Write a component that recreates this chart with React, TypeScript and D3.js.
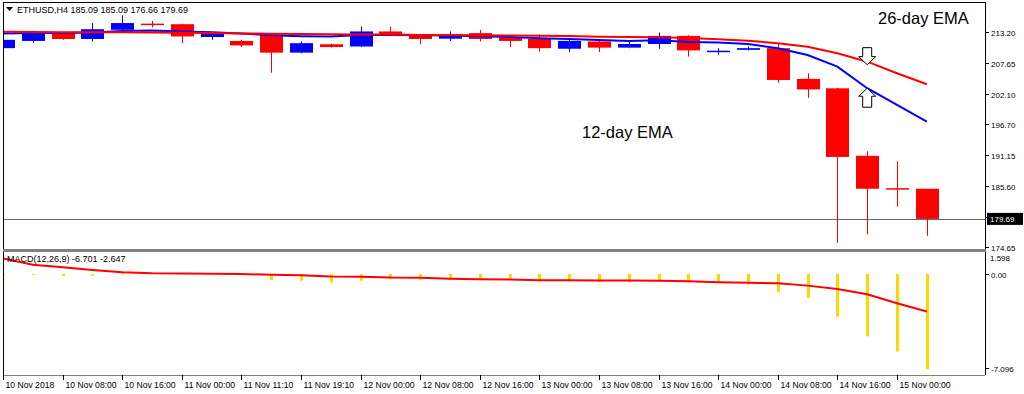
import * as d3 from "d3";

// H4 candles, 10 Nov 2018 00:00 .. 15 Nov 2018 04:00
const opens = [210.3, 211.6, 213.0, 211.95, 213.6, 214.7, 214.6, 212.3, 211.6, 212.8, 209.5, 211.0, 210.6, 213.3, 212.6, 212.0, 213.0, 212.2, 211.95, 210.2, 211.5, 210.4, 211.05, 212.5, 209.8, 210.0, 210.3, 204.8, 203.1, 191.0, 185.2, 185.09];
const highs = [212.1, 213.4, 213.1, 214.8, 216.2, 215.2, 214.7, 213.2, 211.8, 212.9, 211.5, 211.1, 214.2, 214.15, 212.7, 213.3, 213.6, 212.4, 212.8, 212.1, 211.6, 211.6, 213.1, 212.6, 210.3, 210.6, 211.2, 205.8, 203.2, 191.8, 190.0, 185.09];
const lows = [209.9, 211.3, 211.8, 211.5, 213.5, 214.0, 211.2, 211.8, 210.5, 205.9, 209.4, 210.4, 210.5, 212.5, 211.0, 211.6, 211.5, 210.5, 209.7, 209.6, 209.6, 210.3, 210.2, 208.8, 209.1, 209.9, 204.1, 201.4, 175.4, 176.9, 181.9, 176.66];
const closes = [211.8, 213.0, 211.95, 213.7, 214.8, 214.6, 212.4, 213.1, 210.8, 209.5, 211.2, 210.5, 213.3, 212.7, 211.95, 212.8, 211.95, 211.6, 210.3, 211.6, 210.4, 211.05, 212.5, 209.9, 209.85, 210.3, 204.6, 202.9, 190.8, 185.1, 185.09, 179.69];

const ema26 = [213.25, 213.2, 213.15, 213.15, 213.15, 213.1, 213.05, 213.0, 212.95, 212.9, 212.85, 212.8, 212.77, 212.73, 212.68, 212.64, 212.6, 212.57, 212.54, 212.48, 212.36, 212.3, 212.25, 212.12, 211.9, 211.64, 211.18, 210.57, 209.4, 207.88, 205.8, 203.84];
const ema12 = [212.95, 213.0, 213.0, 213.1, 213.4, 213.45, 213.3, 213.15, 212.95, 212.6, 212.45, 212.4, 212.65, 212.65, 212.6, 212.55, 212.45, 212.3, 212.1, 211.95, 211.75, 211.6, 211.7, 211.4, 211.3, 211.05, 210.28, 209.08, 206.99, 203.12, 200.13, 197.14];

const macdMain = [-0.05, -0.07, -0.15, -0.12, 0.05, 0.08, 0.06, 0.04, 0.02, -0.42, -0.47, -0.61, -0.47, -0.37, -0.42, -0.37, -0.35, -0.3, -0.54, -0.54, -0.58, -0.58, -0.54, -0.58, -0.65, -0.72, -1.25, -1.67, -3.0, -4.4, -5.47, -6.701];
const macdSignal = [1.1, 0.65, 0.47, 0.28, 0.13, 0.05, 0.04, 0.02, 0.0, -0.06, -0.08, -0.18, -0.19, -0.25, -0.26, -0.33, -0.37, -0.38, -0.44, -0.44, -0.45, -0.46, -0.47, -0.51, -0.58, -0.62, -0.65, -0.82, -1.06, -1.43, -2.06, -2.647];

const priceTicks = [213.2, 207.65, 202.1, 196.7, 191.15, 185.6, 180.05, 174.65];
const timeLabels = ["10 Nov 2018", "10 Nov 08:00", "10 Nov 16:00", "11 Nov 00:00", "11 Nov 11:10", "11 Nov 19:10", "12 Nov 00:00", "12 Nov 08:00", "12 Nov 16:00", "13 Nov 00:00", "13 Nov 08:00", "13 Nov 16:00", "14 Nov 00:00", "14 Nov 08:00", "14 Nov 16:00", "15 Nov 00:00"];

const W = 1024;
const H = 394;
const LEFT = 3;
const RIGHT = 985;
const MAIN_TOP = 2;
const MAIN_BOT = 249;
const MACD_BOT = 375;
const FONT = "'Liberation Sans', Arial, sans-serif";
const BULL = "#0000ff";
const BEAR = "#ff0000";

export default function App() {
  const idx = d3.range(closes.length);
  const x = d3.scaleLinear().domain([0, 31]).range([3, 926.8]);
  const y = d3.scaleLinear().domain([174.65, 213.2]).range([247, 32]);
  const ym = d3.scaleLinear().domain([-6.701, 0]).range([369, 274]);
  const bodyW = 23;
  const last = closes[closes.length - 1];

  const emaLine = (arr: number[]) =>
    d3.line<number>().x((_, i) => x(i)).y((d) => y(d))(arr) ?? "";
  const sigLine = d3.line<number>().x((_, i) => x(i)).y((d) => ym(d))(macdSignal) ?? "";

  // arrows pointing at the EMAs on the crossover candle
  const ax = x(29);
  const downTip = y(ema26[29]) + 3;
  const upTip = y(ema12[29]);
  const downArrow = `M${ax - 4.5},${downTip - 17} h9 v9 h4 l-8.5,8 l-8.5,-8 h4 z`;
  const upArrow = `M${ax},${upTip} l8.5,8 h-4 v11 h-9 v-11 h-4 z`;

  return (
    <svg width={W} height={H} style={{ position: "absolute", left: 0, top: 0, background: "#fff" }} fontFamily={FONT}>
      <defs>
        <clipPath id="main-clip">
          <rect x={LEFT} y={MAIN_TOP} width={RIGHT - LEFT} height={MAIN_BOT - MAIN_TOP} />
        </clipPath>
        <clipPath id="macd-clip">
          <rect x={LEFT} y={252} width={RIGHT - LEFT} height={MACD_BOT - 252} />
        </clipPath>
      </defs>

      {/* current price line */}
      <line x1={LEFT} x2={RIGHT} y1={Math.round(y(last)) + 0.5} y2={Math.round(y(last)) + 0.5} stroke="#5f6f6f" strokeWidth={1} />

      <g clipPath="url(#main-clip)">
        {idx.map((i) => {
          const up = closes[i] > opens[i];
          const c = up ? BULL : BEAR;
          const cx = Math.round(x(i)) + 0.5;
          const top = y(Math.max(opens[i], closes[i]));
          const bot = y(Math.min(opens[i], closes[i]));
          const h = Math.max(bot - top, 1.5);
          return (
            <g key={i}>
              <line x1={cx} x2={cx} y1={y(highs[i])} y2={y(lows[i])} stroke={c} strokeWidth={1} />
              <rect x={cx - bodyW / 2} y={top} width={bodyW} height={h} fill={c} />
            </g>
          );
        })}
        <path d={emaLine(ema12)} fill="none" stroke={BULL} strokeWidth={2} />
        <path d={emaLine(ema26)} fill="none" stroke={BEAR} strokeWidth={2} />
        <path d={downArrow} fill="#fff" stroke="#000" strokeWidth={1} />
        <path d={upArrow} fill="#fff" stroke="#000" strokeWidth={1} />
      </g>

      <text x={878} y={24} fontSize={16.5} fill="#000">26-day EMA</text>
      <text x={582} y={138} fontSize={16.5} fill="#000">12-day EMA</text>

      {/* header */}
      <path d="M6,7 h7 l-3.5,4 z" fill="#000" />
      <text x={17} y={13} fontSize={9} fill="#000">ETHUSD,H4  185.09 185.09 176.66 179.69</text>

      {/* macd */}
      <g clipPath="url(#macd-clip)">
        {idx.map((i) => (
          <rect
            key={i}
            x={Math.round(x(i)) - 1}
            y={Math.min(ym(macdMain[i]), ym(0))}
            width={3}
            height={Math.max(Math.abs(ym(macdMain[i]) - ym(0)), 1)}
            fill="#ffd700"
          />
        ))}
        <path d={sigLine} fill="none" stroke={BEAR} strokeWidth={2} />
      </g>
      <text x={7} y={262} fontSize={9} fill="#000">MACD(12,26,9) -6.701 -2.647</text>

      {/* frame */}
      <line x1={LEFT + 0.5} x2={LEFT + 0.5} y1={MAIN_TOP} y2={MACD_BOT} stroke="#000" />
      <line x1={LEFT} x2={RIGHT} y1={MAIN_TOP + 0.5} y2={MAIN_TOP + 0.5} stroke="#000" />
      <line x1={RIGHT + 0.5} x2={RIGHT + 0.5} y1={MAIN_TOP} y2={MACD_BOT} stroke="#000" />
      <rect x={LEFT} y={MAIN_BOT} width={RIGHT - LEFT + 1} height={3} fill="#808080" />
      <line x1={LEFT} x2={RIGHT} y1={MACD_BOT + 0.5} y2={MACD_BOT + 0.5} stroke="#808080" />

      {/* price axis */}
      {priceTicks.map((t) => (
        <g key={t} transform={`translate(${RIGHT},${Math.round(y(t)) + 0.5})`}>
          <line x1={0} x2={4} stroke="#000" />
          <text x={6} y={3} fontSize={8} fill="#000">{t.toFixed(2)}</text>
        </g>
      ))}
      <rect x={RIGHT + 2} y={y(last) - 6} width={36} height={12} fill="#000" />
      <text x={RIGHT + 5} y={y(last) + 3} fontSize={8} fill="#fff">{last.toFixed(2)}</text>

      {/* macd axis */}
      <text x={RIGHT + 5} y={261} fontSize={8} fill="#000">1.598</text>
      <g transform={`translate(${RIGHT},${Math.round(ym(0)) + 0.5})`}>
        <line x1={0} x2={4} stroke="#000" />
        <text x={6} y={3} fontSize={8} fill="#000">0.00</text>
      </g>
      <g transform={`translate(${RIGHT},368.5)`}>
        <line x1={0} x2={4} stroke="#000" />
        <text x={6} y={3} fontSize={8} fill="#000">-7.096</text>
      </g>

      {/* time axis */}
      {timeLabels.map((lab, j) => {
        const tx = Math.round(x(j * 2)) + 0.5;
        return (
          <g key={lab} transform={`translate(${tx},${MACD_BOT})`}>
            <line y1={0} y2={5} stroke="#000" />
            <text x={2} y={13} fontSize={8.6} fill="#000">{lab}</text>
          </g>
        );
      })}
    </svg>
  );
}
